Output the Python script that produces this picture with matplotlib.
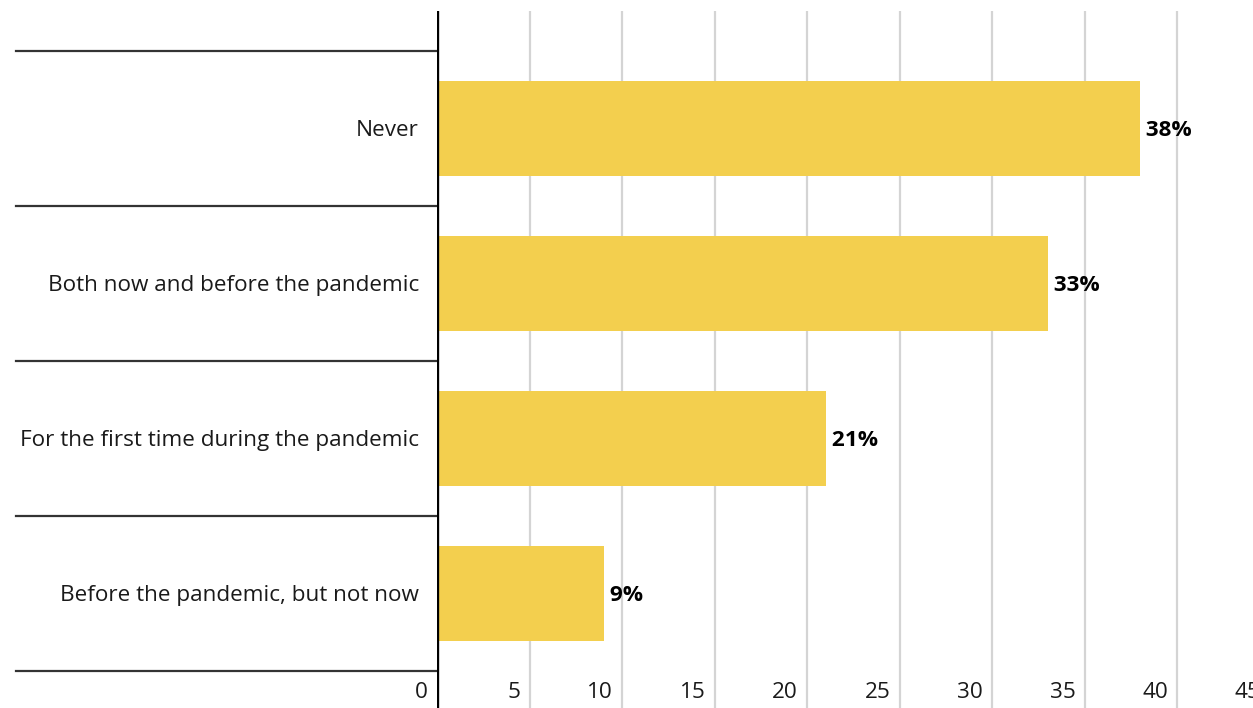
import matplotlib
matplotlib.use("Agg")
import matplotlib.pyplot as plt
import matplotlib.transforms as mtransforms

plt.rcParams["font.family"] = ["Open Sans", "DejaVu Sans"]

categories = ["Never", "Both now and before the pandemic",
              "For the first time during the pandemic", "Before the pandemic, but not now"]
values = [38, 33, 21, 9]
xticks = [0, 5, 10, 15, 20, 25, 30, 35, 40, 45]

W, H = 1253, 708
fig = plt.figure(figsize=(W / 100, H / 100), dpi=100)
# axes: x from px 437 (value 0) to px 1269.5 (value 45, past the right edge)
left_px, right_px, top_px = 437, 1269.5, 11
ax = fig.add_axes([left_px / W, 0, (right_px - left_px) / W, 1 - top_px / H])
ax.set_xlim(0, 45)
ax.set_ylim(3.739, -0.761)

for x in xticks[1:]:
    ax.axvline(x, color="#d4d4d4", lw=1.6, zorder=0)

y = list(range(len(categories)))
ax.barh(y, values, height=0.613, color="#F3CF4E", zorder=2)

ax.axvline(0, color="black", lw=2.4, zorder=4)

# category separators to the left of the axis
sep = mtransforms.blended_transform_factory(ax.transAxes, ax.transData)
x0 = (16 - left_px) / (right_px - left_px)
for i in range(len(categories) + 1):
    ax.plot([x0, 0], [i - 0.5, i - 0.5], color="#333333", lw=1.6,
            transform=sep, clip_on=False, zorder=3)

fs = 16.2

# category labels
lab_tr = ax.transData + mtransforms.ScaledTranslation(-18 / 100, -2 / 100, fig.dpi_scale_trans)
for yi, c in zip(y, categories):
    ax.text(0, yi, c, ha="right", va="center", fontsize=fs, color="#1a1a1a",
            transform=lab_tr)

# value labels
val_tr = ax.transData + mtransforms.ScaledTranslation(0, -2 / 100, fig.dpi_scale_trans)
for yi, v in zip(y, values):
    ax.text(v, yi, f" {v}%", ha="left", va="center", fontsize=fs,
            fontweight="bold", color="black", transform=val_tr)

# x tick labels, inside the plot, right aligned just left of each gridline
tick_tr = mtransforms.blended_transform_factory(ax.transData, ax.transAxes) + \
    mtransforms.ScaledTranslation(-9 / 100, 0, fig.dpi_scale_trans)
for x in xticks:
    ax.text(x, (H - 693) / (H - top_px), str(x), ha="right", va="center",
            fontsize=fs, color="#1a1a1a", transform=tick_tr, clip_on=False)

ax.set_xticks([])
ax.set_yticks([])
for s in ax.spines.values():
    s.set_visible(False)

fig.savefig("out.png", dpi=100)
